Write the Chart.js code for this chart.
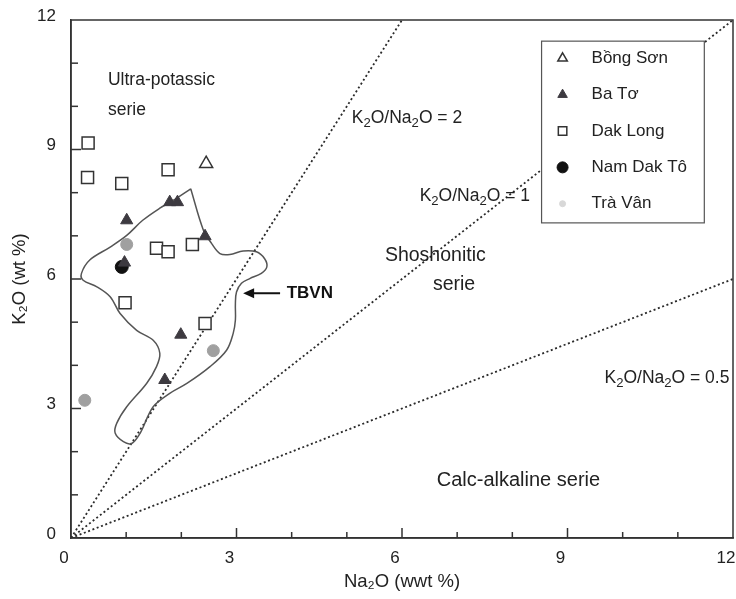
<!DOCTYPE html>
<html>
<head>
<meta charset="utf-8">
<script src="https://cdn.jsdelivr.net/npm/chart.js@4.4.1/dist/chart.umd.min.js"></script>
<style>
html,body{margin:0;padding:0;background:#ffffff;}
#wrap{width:736px;height:599px;position:relative;}
</style>
</head>
<body>
<div id="wrap"><canvas id="c" width="736" height="599"></canvas></div>
<script>
// ---------- data (Na2O wt%, K2O wt%) ----------
const bongSonX = [2.45];
const bongSonY = [8.67];
const baToX = [1.79, 1.93, 1.01, 2.43, 0.97, 1.99, 1.70];
const baToY = [7.78, 7.78, 7.36, 6.99, 6.38, 4.71, 3.66];
const dakLongX = [0.31, 0.30, 0.92, 1.76, 1.55, 1.76, 2.20, 0.98, 2.43];
const dakLongY = [9.15, 8.35, 8.21, 8.53, 6.71, 6.63, 6.80, 5.45, 4.97];
const namDakToX = [0.92];
const namDakToY = [6.28];
const traVanX = [1.01, 2.58, 0.25];
const traVanY = [6.80, 4.34, 3.19];
// TBVN field outline
const tbvnX = [2.17,2.40,2.55,2.70,2.88,3.12,3.36,3.51,3.55,3.45,3.24,3.09,3.00,2.98,2.98,2.94,2.82,2.52,2.10,1.79,1.49,1.25,1.10,0.95,0.80,0.83,1.01,1.37,1.55,1.61,1.49,1.19,0.89,0.71,0.47,0.22,0.19,0.34,0.71,1.01,1.30,1.61,1.85,2.17];
const tbvnY = [8.09,7.13,6.82,6.59,6.57,6.65,6.63,6.47,6.28,6.13,6.01,5.90,5.70,5.43,5.05,4.74,4.35,3.97,3.58,3.35,3.04,2.42,2.19,2.23,2.43,2.66,3.04,3.58,3.97,4.28,4.58,4.81,5.20,5.59,5.82,5.97,6.13,6.44,6.74,7.01,7.36,7.64,7.82,8.09];
// K2O/Na2O ratio lines
const ratios = [2, 1, 0.5];
// axes
const axisMin = 0, axisMax = 12;
const labelledTicks = [0, 3, 6, 9, 12];

// ---------- helpers ----------
const FONT = '"Liberation Sans", Arial, Helvetica, sans-serif';
const pts = (xs, ys) => xs.map((x, i) => ({x: x, y: ys[i]}));
function ratioEnd(r) {
  const x = Math.min(axisMax, axisMax / r);
  return {x: x, y: x * r};
}
function richText(ctx, x, y, segs, size, weight, color) {
  let cx = x;
  ctx.fillStyle = color || '#222';
  ctx.textBaseline = 'middle';
  ctx.textAlign = 'left';
  for (const s of segs) {
    const fs = s.sub ? size * 0.75 : size;
    ctx.font = (weight || 'normal') + ' ' + fs + 'px ' + FONT;
    ctx.fillText(s.t, cx, y + (s.sub ? size * 0.3 : 0));
    cx += ctx.measureText(s.t).width;
  }
}
const ratioSegs = r => [{t:'K'},{t:'2',sub:1},{t:'O/Na'},{t:'2',sub:1},{t:'O = ' + r}];

// ---------- datasets ----------
const datasets = [
  {label:'Bồng Sơn', data: pts(bongSonX, bongSonY), pointStyle:'triangle', pointRadius:7.5,
   backgroundColor:'#ffffff', borderColor:'#333', borderWidth:1.5, order:0, legend:true},
  {label:'Ba Tơ', data: pts(baToX, baToY), pointStyle:'triangle', pointRadius:7,
   backgroundColor:'#3d3a40', borderColor:'#3d3a40', borderWidth:1, order:0, legend:true},
  {label:'Dak Long', data: pts(dakLongX, dakLongY), pointStyle:'rect', pointRadius:8.5,
   backgroundColor:'#ffffff', borderColor:'#333', borderWidth:1.5, order:0, legend:true},
  {label:'Nam Dak Tô', data: pts(namDakToX, namDakToY), pointStyle:'circle', pointRadius:6.5,
   backgroundColor:'#111', borderColor:'#111', borderWidth:1, order:0, legend:true},
  {label:'Trà Vân', data: pts(traVanX, traVanY), pointStyle:'circle', pointRadius:6,
   backgroundColor:'#a0a0a0', borderColor:'#a0a0a0', borderWidth:1, order:0, legend:true,
   legendColor:'#d8d8d8'},
  {type:'line', label:'TBVN', data: pts(tbvnX, tbvnY), showLine:true, pointRadius:0,
   borderColor:'#555', borderWidth:1.5, tension:0.35, fill:false, order:1}
].concat(ratios.map(r => ({
  type:'line', label:'K2O/Na2O = ' + r, data:[{x:0, y:0}, ratioEnd(r)], showLine:true,
  pointRadius:0, borderColor:'#2a2a2a', borderWidth:1.8, borderDash:[2, 2.6], order:1
})));

// ---------- overlay plugin ----------
const overlay = {
  id: 'overlay',
  beforeDatasetsDraw(chart) {
    const ctx = chart.ctx, a = chart.chartArea;
    const xs = chart.scales.x, ys = chart.scales.y;
    ctx.save();
    ctx.strokeStyle = '#333';
    ctx.lineWidth = 1.5;
    xs.ticks.forEach(t => {
      if (t.value <= axisMin || t.value >= axisMax) return;
      const px = xs.getPixelForValue(t.value);
      const len = labelledTicks.includes(t.value) ? 10 : 6;
      ctx.beginPath(); ctx.moveTo(px, a.bottom); ctx.lineTo(px, a.bottom - len); ctx.stroke();
    });
    ys.ticks.forEach(t => {
      if (t.value <= axisMin || t.value >= axisMax) return;
      const py = ys.getPixelForValue(t.value);
      const len = labelledTicks.includes(t.value) ? 10 : 7;
      ctx.beginPath(); ctx.moveTo(a.left, py); ctx.lineTo(a.left + len, py); ctx.stroke();
    });
    ctx.restore();
  },
  afterDatasetsDraw(chart) {
    const ctx = chart.ctx, a = chart.chartArea;
    const xs = chart.scales.x, ys = chart.scales.y;
    const X = v => xs.getPixelForValue(v), Y = v => ys.getPixelForValue(v);
    ctx.save();
    ctx.strokeStyle = '#333';
    ctx.lineWidth = 1.5;
    ctx.strokeRect(a.left, a.top, a.right - a.left, a.bottom - a.top);
    richText(ctx, X(0.67), Y(10.60), [{t:'Ultra-potassic'}], 17.5);
    richText(ctx, X(0.67), Y(9.91), [{t:'serie'}], 17.5);
    richText(ctx, X(5.69), Y(6.53), [{t:'Shoshonitic'}], 19.5);
    richText(ctx, X(6.56), Y(5.86), [{t:'serie'}], 19.5);
    richText(ctx, X(6.63), Y(1.34), [{t:'Calc-alkaline serie'}], 20);
    const ratioPos = [[5.09, 9.72], [6.32, 7.92], [9.67, 3.70]];
    ratios.forEach((r, i) => richText(ctx, X(ratioPos[i][0]), Y(ratioPos[i][1]), ratioSegs(r), 17.5));
    richText(ctx, X(3.91), Y(5.67), [{t:'TBVN'}], 17, 'bold', '#111');
    const ay = Y(5.67), ax0 = X(3.79), ax1 = X(3.12);
    ctx.strokeStyle = '#111'; ctx.fillStyle = '#111'; ctx.lineWidth = 2;
    ctx.beginPath(); ctx.moveTo(ax0, ay); ctx.lineTo(ax1 + 8, ay); ctx.stroke();
    ctx.beginPath(); ctx.moveTo(ax1, ay); ctx.lineTo(ax1 + 11, ay - 5); ctx.lineTo(ax1 + 11, ay + 5); ctx.closePath(); ctx.fill();
    ctx.restore();
  },
  afterDraw(chart) {
    const ctx = chart.ctx;
    const xs = chart.scales.x, ys = chart.scales.y;
    const X = v => xs.getPixelForValue(v), Y = v => ys.getPixelForValue(v);
    const bx0 = X(8.53), bx1 = X(11.48), by0 = Y(11.51), by1 = Y(7.30);
    ctx.save();
    ctx.fillStyle = '#ffffff';
    ctx.fillRect(bx0, by0, bx1 - bx0, by1 - by0);
    ctx.strokeStyle = '#555'; ctx.lineWidth = 1.2;
    ctx.strokeRect(bx0, by0, bx1 - bx0, by1 - by0);
    const items = chart.data.datasets.filter(d => d.legend);
    const rowH = (by1 - by0) / items.length;
    items.forEach((d, i) => {
      const cy = by0 + rowH * (i + 0.5) - 1;
      const sx = bx0 + 21;
      ctx.fillStyle = d.legendColor || d.backgroundColor;
      ctx.strokeStyle = d.legendColor || d.borderColor;
      ctx.lineWidth = d.borderWidth;
      Chart.helpers.drawPoint(ctx, {pointStyle: d.pointStyle, radius: d.pointStyle === 'rect' ? 6 : (d.legendColor ? 3 : 5.5), rotation: 0, borderWidth: d.borderWidth}, sx, cy);
      richText(ctx, bx0 + 50, cy, [{t: d.label}], 17, 'normal', '#222');
    });
    ctx.restore();
  }
};

new Chart(document.getElementById('c'), {
  type: 'scatter',
  data: {datasets: datasets},
  options: {
    responsive: false,
    animation: false,
    devicePixelRatio: 1,
    layout: {autoPadding: false, padding: {left: 0, right: 3, top: 20, bottom: 0}},
    plugins: {legend: {display: false}, tooltip: {enabled: false}},
    scales: {
      x: {
        type: 'linear', min: axisMin, max: axisMax,
        grid: {display: false, drawTicks: false},
        border: {display: true, color: '#333', width: 1.5},
        ticks: {stepSize: 1, padding: 10, labelOffset: -7, color: '#222', autoSkip: false, maxRotation: 0,
                font: {family: FONT, size: 17},
                callback: v => labelledTicks.includes(v) ? String(v) : ''},
        title: {display: true, text: 'Na₂O (wwt %)', color: '#222', font: {family: FONT, size: 18.5},
                padding: {top: 0, bottom: 6}},
        afterFit: s => { s.height = 61; s.paddingLeft = 0; s.paddingRight = 0; }
      },
      y: {
        type: 'linear', min: axisMin, max: axisMax,
        grid: {display: false, drawTicks: false},
        border: {display: true, color: '#333', width: 1.5},
        ticks: {stepSize: 1, padding: 15, labelOffset: -4, color: '#222', autoSkip: false,
                font: {family: FONT, size: 17},
                callback: v => labelledTicks.includes(v) ? String(v) : ''},
        title: {display: true, text: 'K₂O (wt %)', color: '#222', font: {family: FONT, size: 18.5},
                padding: {top: 9, bottom: 0}},
        afterFit: s => { s.width = 71; s.paddingTop = 0; s.paddingBottom = 0; }
      }
    }
  },
  plugins: [overlay]
});
</script>
</body>
</html>
